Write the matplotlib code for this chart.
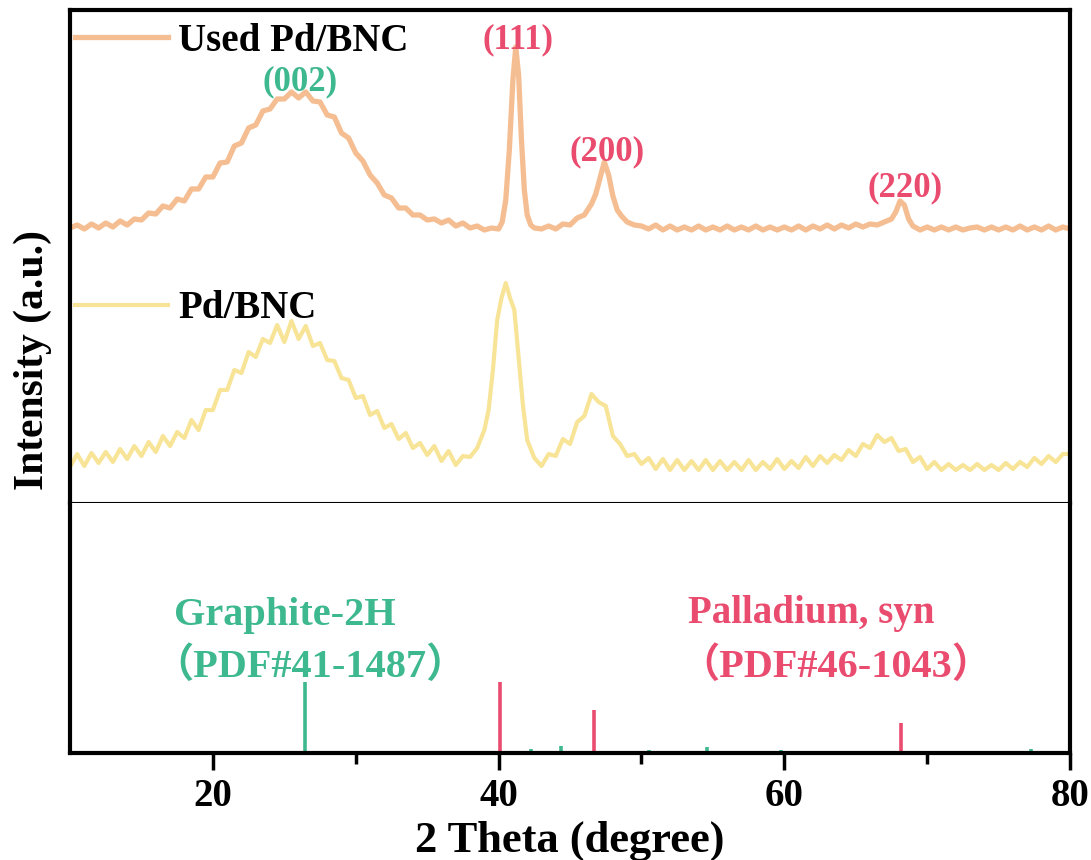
import numpy as np
import matplotlib
matplotlib.use("Agg")
import matplotlib.pyplot as plt
from matplotlib.lines import Line2D

plt.rcParams['font.family'] = ['Liberation Serif', 'Noto Sans CJK SC']
plt.rcParams['font.weight'] = 'bold'

# Used Pd/BNC pattern (height above its own baseline, a.u.)
used_theta = [10, 10.5, 11, 11.5, 12, 12.5, 13, 13.5, 14, 14.5, 15, 15.5, 16, 16.5, 17, 17.5,
              18, 18.5, 19, 19.5, 20, 20.5, 21, 21.5, 22, 22.5, 23, 23.5, 24, 24.5, 25, 25.5,
              26, 26.5, 27, 27.5, 28, 28.5, 29, 29.5, 30, 30.5, 31, 31.5, 32, 32.5, 33, 33.5,
              34, 34.5, 35, 35.5, 36, 36.5, 37, 37.5, 38, 38.5, 39, 39.5, 40, 40.25, 40.5, 40.75,
              41.0, 41.2, 41.4, 41.6, 41.8, 42.0, 42.25, 42.5, 43, 43.5, 44, 44.5, 45, 45.5, 46,
              46.5, 46.8, 47.1, 47.4, 47.7, 48.0, 48.3, 48.6, 49, 49.5, 50, 50.5, 51, 51.5, 52,
              52.5, 53, 53.5, 54, 54.5, 55, 55.5, 56, 56.5, 57, 57.5, 58, 58.5, 59, 59.5, 60,
              60.5, 61, 61.5, 62, 62.5, 63, 63.5, 64, 64.5, 65, 65.5, 66, 66.5, 67, 67.5, 67.8,
              68.1, 68.4, 68.7, 69, 69.5, 70, 70.5, 71, 71.5, 72, 72.5, 73, 73.5, 74, 74.5, 75,
              75.5, 76, 76.5, 77, 77.5, 78, 78.5, 79, 79.5, 80]
used_counts = [2, 5, 1, 6, 2, 7, 3, 9, 5, 11, 10, 17, 16, 24, 22, 31,
               29, 41, 41, 53, 53, 67, 68, 84, 87, 102, 105, 119, 121, 131, 131, 138,
               132, 138, 129, 128, 115, 113, 97, 92, 77, 69, 55, 47, 35, 32, 22, 22,
               15, 15, 10, 11, 7, 10, 4, 7, 2, 4, 0, 2, 1, 8, 30, 80,
               150, 183, 155, 90, 40, 15, 5, 2, 1, 4, 1, 6, 5, 12, 15,
               26, 36, 52, 68, 55, 34, 20, 14, 8, 5, 4, 1, 5, 0, 4,
               0, 3, 0, 4, 0, 3, 0, 4, 0, 3, 0, 4, 0, 3, 0, 3,
               0, 4, 0, 4, 1, 5, 1, 5, 2, 6, 3, 6, 5, 8, 11, 18,
               29, 25, 11, 4, 0, 3, 0, 3, 0, 3, 0, 2, 3, 0, 3, 0,
               3, 0, 4, 0, 3, 0, 4, 0, 3, 1]

# Pd/BNC pattern
fresh_theta = [10, 10.5, 11, 11.5, 12, 12.5, 13, 13.5, 14, 14.5, 15, 15.5, 16, 16.5, 17, 17.5,
               18, 18.5, 19, 19.5, 20, 20.5, 21, 21.5, 22, 22.5, 23, 23.5, 24, 24.5, 25, 25.5,
               26, 26.5, 27, 27.5, 28, 28.5, 29, 29.5, 30, 30.5, 31, 31.5, 32, 32.5, 33, 33.5,
               34, 34.5, 35, 35.5, 36, 36.5, 37, 37.5, 38, 38.5, 39, 39.3, 39.6, 39.9, 40.2, 40.5,
               40.8, 41.1, 41.4, 41.7, 42.0, 42.5, 43, 43.5, 44, 44.5, 45, 45.5, 46, 46.5, 47,
               47.5, 48, 48.5, 49, 49.5, 50, 50.5, 51, 51.5, 52, 52.5, 53, 53.5, 54, 54.5, 55,
               55.5, 56, 56.5, 57, 57.5, 58, 58.5, 59, 59.5, 60, 60.5, 61, 61.5, 62, 62.5, 63,
               63.5, 64, 64.5, 65, 65.5, 66, 66.5, 67, 67.5, 68, 68.5, 69, 69.5, 70, 70.5, 71,
               71.5, 72, 72.5, 73, 73.5, 74, 74.5, 75, 75.5, 76, 76.5, 77, 77.5, 78, 78.5, 79,
               79.5, 80]
fresh_counts = [3, 16, 4, 17, 7, 18, 8, 21, 11, 24, 14, 28, 18, 34, 24, 38,
                32, 50, 40, 60, 60, 80, 80, 100, 97, 118, 113, 131, 127, 145, 128, 149,
                131, 144, 124, 127, 110, 109, 92, 90, 72, 74, 55, 59, 42, 46, 31, 37,
                22, 27, 15, 24, 9, 19, 5, 14, 13, 22, 40, 60, 100, 150, 172, 187,
                172, 160, 112, 65, 30, 12, 4, 16, 14, 31, 26, 48, 54, 76, 68,
                64, 34, 26, 14, 16, 6, 12, 1, 11, 0, 10, 0, 9, 0, 10, 0,
                9, 0, 8, 0, 10, 0, 8, 1, 11, 1, 9, 2, 13, 4, 14, 7,
                15, 10, 20, 14, 26, 22, 35, 28, 32, 19, 21, 8, 13, 1, 8, 0,
                6, 0, 5, 0, 6, 0, 5, 0, 7, 1, 8, 3, 12, 6, 14, 8,
                16, 16]

used_offset = 273
fresh_offset = 33

# reference cards
graphite_theta = [26.45, 42.3, 44.4, 50.5, 54.6, 59.8, 77.3]
graphite_int = [100, 5, 10, 4, 8, 4, 5]
pd_theta = [40.1, 46.7, 68.2]
pd_int = [100, 61, 42]

peak_labels = ['(002)', '(111)', '(200)', '(220)']
peak_pos = [26.1, 41.35, 47.6, 68.45]
peak_y = [421, 463, 351, 315]
peak_colors = ['#3DB88F', '#EA4C6F', '#EA4C6F', '#EA4C6F']

c_used = '#F5BE92'
c_fresh = '#F8E497'
c_green = '#3DB88F'
c_pink = '#EA4C6F'

fig = plt.figure(figsize=(10.91, 8.6), dpi=100)
ax1 = fig.add_axes([0.0642, 0.4151, 0.9166, 0.5733])
ax2 = fig.add_axes([0.0642, 0.1244, 0.9166, 0.2907])

ax1.plot(used_theta, np.array(used_counts) + used_offset, color=c_used, lw=3.8)
ax1.plot(fresh_theta, np.array(fresh_counts) + fresh_offset, color=c_fresh, lw=3.0)
ax1.set_xlim(10, 80)
ax1.set_ylim(0, 493)
ax1.set_xticks([])
ax1.set_yticks([])

for lab, x, y, c in zip(peak_labels, peak_pos, peak_y, peak_colors):
    ax1.text(x, y, lab, color=c, fontsize=25, ha='center', va='center', fontweight='bold')

leg1 = ax1.legend([Line2D([], [], color=c_used, lw=3.8)], ['Used Pd/BNC'],
                  loc='center left', bbox_to_anchor=(0.005, 0.937), frameon=False,
                  fontsize=28, handlelength=2.4, handletextpad=0.25, borderpad=0,
                  borderaxespad=0)
ax1.add_artist(leg1)
ax1.legend([Line2D([], [], color=c_fresh, lw=3.0)], ['Pd/BNC'],
           loc='center left', bbox_to_anchor=(0.005, 0.394), frameon=False,
           fontsize=28, handlelength=2.4, handletextpad=0.25, borderpad=0,
           borderaxespad=0)

ax2.vlines(graphite_theta, 0, graphite_int, color=c_green, lw=2.6)
ax2.vlines(pd_theta, 0, pd_int, color=c_pink, lw=2.6)
ax2.set_xlim(10, 80)
ax2.set_ylim(0, 352)
ax2.set_yticks([])
ax2.set_xticks([20, 40, 60, 80])
ax2.set_xticks([30, 50, 70], minor=True)
ax2.tick_params(axis='x', which='major', direction='out', length=12, width=2.5,
                labelsize=28, pad=6)
ax2.tick_params(axis='x', which='minor', direction='out', length=8, width=2.5)
for lbl in ax2.get_xticklabels():
    lbl.set_fontweight('bold')
ax2.set_xlabel('2 Theta (degree)', fontsize=32, fontweight='bold', labelpad=4)

ax2.text(0.215, 0.552, 'Graphite-2H', transform=ax2.transAxes, color=c_green,
         fontsize=29, ha='center', va='center', fontweight='bold')
ax2.text(0.24, 0.345, '（PDF#41-1487）', transform=ax2.transAxes, color=c_green,
         fontsize=29, ha='center', va='center', fontweight='bold')
ax2.text(0.741, 0.56, 'Palladium, syn', transform=ax2.transAxes, color=c_pink,
         fontsize=28, ha='center', va='center', fontweight='bold')
ax2.text(0.766, 0.345, '（PDF#46-1043）', transform=ax2.transAxes, color=c_pink,
         fontsize=29, ha='center', va='center', fontweight='bold')

for name, sp in ax1.spines.items():
    sp.set_linewidth(3)
ax1.spines['bottom'].set_linewidth(1.5)
for name, sp in ax2.spines.items():
    sp.set_linewidth(3)
ax2.spines['top'].set_visible(False)

fig.text(0.030, 1 - 360 / 860, 'Intensity (a.u.)', rotation=90, fontsize=30,
         fontweight='bold', ha='center', va='center')

fig.savefig('out.png', dpi=100)
